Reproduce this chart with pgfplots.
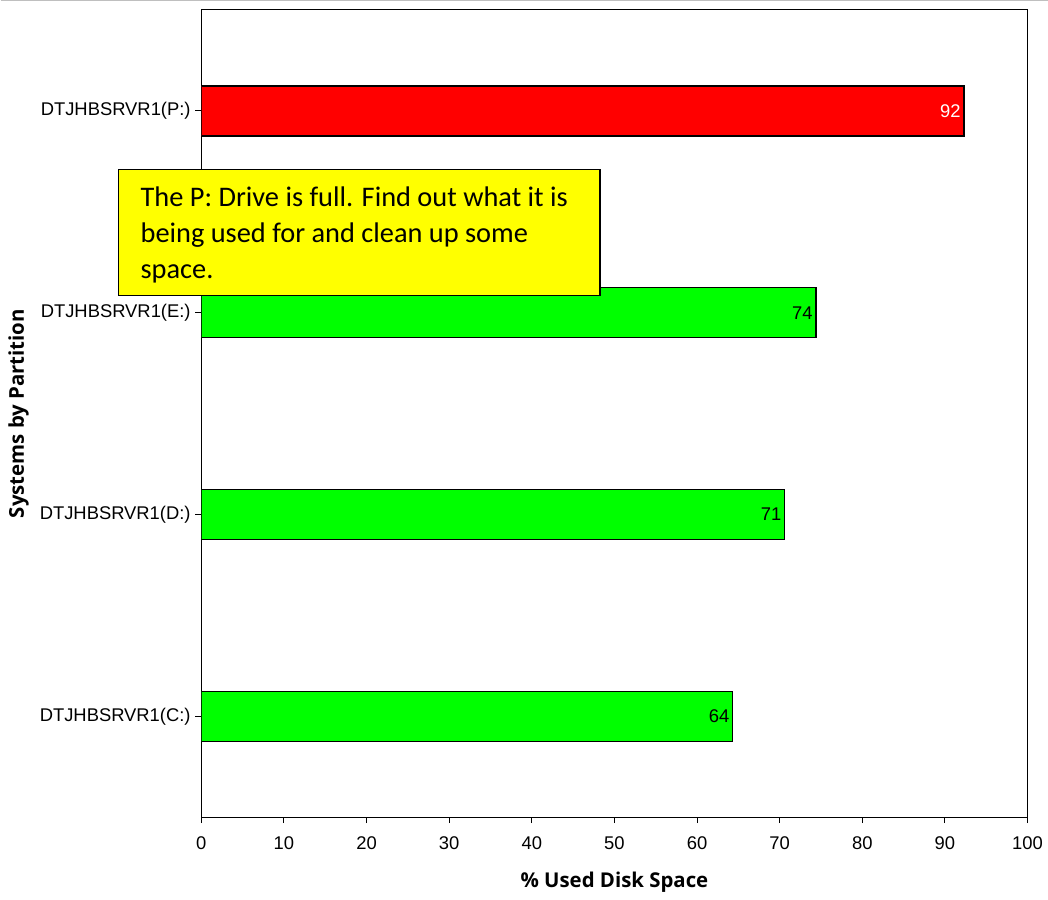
\documentclass[border=0pt]{standalone}
\usepackage{pgfplots}
\pgfplotsset{compat=1.18}
\usepackage{fontspec}
\setmainfont{Liberation Sans}
\newfontfamily\calibri{Carlito}
\newfontfamily\labfont{Open Sans}
\definecolor{barred}{RGB}{255,0,0}
\definecolor{bargreen}{RGB}{0,255,0}
\definecolor{noteyellow}{RGB}{255,255,0}
\begin{document}
\begin{tikzpicture}[x=0.75pt,y=0.75pt]
\fill[white] (0,0) rectangle (1048,900);
\draw[gray!50, line width=0.75pt] (0,899.5) -- (1048,899.5);
\begin{axis}[
  at={(150.75pt,61.5pt)}, anchor=south west,
  width=620.25pt, height=606pt, scale only axis,
  xbar, bar width=37.5pt, bar shift=0pt,
  xmin=0, xmax=100, ymin=-0.5, ymax=3.5,
  xtick={0,10,...,100},
  ytick={0,1,2,3},
  yticklabels={DTJHBSRVR1(C:),DTJHBSRVR1(D:),DTJHBSRVR1(E:),DTJHBSRVR1(P:)},
  tick pos=left, tick align=outside, major tick length=4.5pt,
  tick style={black, line width=0.75pt},
  axis line style={black, line width=0.75pt},
  ticklabel style={font=\fontsize{13.8}{15}\selectfont},
  /pgf/number format/assume math mode=true,
  xticklabel style={yshift=-6.5pt},
  xlabel={\% Used Disk Space},
  ylabel={Systems by Partition},
  label style={font=\labfont\bfseries\fontsize{15.3}{17}\selectfont},
  xlabel style={at={(rel axis cs:0.5,0)}, anchor=center, yshift=-48.75pt},
  ylabel style={at={(rel axis cs:0,0.5)}, anchor=center, yshift=137.25pt},
  point meta=x,
  nodes near coords={\pgfmathprintnumber[fixed,precision=0]{\pgfplotspointmeta}},
  every node near coord/.append style={anchor=east, inner xsep=2pt, font=\fontsize{13.8}{15}\selectfont},
]
\addplot[fill=barred, draw=black, line width=1pt,
  every node near coord/.append style={text=white}]
  coordinates {(92.3,3)};
\addplot[fill=bargreen, draw=black, line width=1pt,
  every node near coord/.append style={text=black}]
  coordinates {(64.3,0) (70.6,1) (74.4,2)};
\end{axis}
\draw[fill=noteyellow, draw=black, line width=1pt] (118,604) rectangle (600,730);
\node[anchor=base west, inner sep=0pt, font=\calibri\fontsize{21.3}{27}\selectfont] at (140,693) {The P: Drive is full. Find out what it is};
\node[anchor=base west, inner sep=0pt, font=\calibri\fontsize{21.3}{27}\selectfont] at (140,657) {being used for and clean up some};
\node[anchor=base west, inner sep=0pt, font=\calibri\fontsize{21.3}{27}\selectfont] at (140,621) {space.};
\end{tikzpicture}
\end{document}
